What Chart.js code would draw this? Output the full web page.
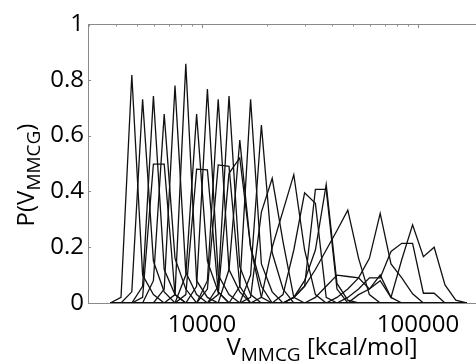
<!DOCTYPE html>
<html>
<head>
<meta charset="utf-8">
<script src="https://cdn.jsdelivr.net/npm/chart.js@4.4.1/dist/chart.umd.min.js"></script>
<style>
  html, body { margin: 0; padding: 0; background: #fff; }
  #wrap { width: 476px; height: 364px; }
</style>
</head>
<body>
<div id="wrap"><canvas id="chart"></canvas></div>
<script>
// histogram bin centres (kcal/mol), log spaced
const bins = [3758, 4217, 4732, 5309, 5957, 6683, 7499, 8414, 9441, 10593,
  11885, 13335, 14962, 16788, 18836, 21135, 23714, 26607, 29854, 33497,
  37584, 42170, 47315, 53088, 59566, 66834, 74989, 84140, 94406, 105925,
  118850, 133352, 149624, 167880];

// each run: [index of first listed bin, probabilities]; zero elsewhere
const narrowRuns = [
  [1, [0.02, 0.817, 0.10, 0.03]],
  [2, [0.04, 0.73, 0.15, 0.04]],
  [3, [0.06, 0.742, 0.12, 0.03]],
  [4, [0.08, 0.677, 0.16, 0.05]],
  [5, [0.05, 0.779, 0.11, 0.03]],
  [6, [0.03, 0.857, 0.08, 0.02]],
  [7, [0.10, 0.677, 0.15, 0.04]],
  [8, [0.06, 0.767, 0.10, 0.03]],
  [9, [0.08, 0.73, 0.12, 0.04]],
  [10, [0.06, 0.742, 0.13, 0.03]],
  [11, [0.12, 0.584, 0.20, 0.06]],
  [12, [0.06, 0.73, 0.14, 0.04]],
  [13, [0.10, 0.638, 0.18, 0.05]]
];

const broadRuns = [
  [3, [0.02, 0.498, 0.498, 0.03]],
  [7, [0.03, 0.48, 0.477, 0.04]],
  [9, [0.05, 0.495, 0.49, 0.06]],
  [10, [0.03, 0.465, 0.52, 0.20, 0.02]],
  [13, [0.02, 0.326, 0.447, 0.22, 0.02]],
  [14, [0.02, 0.20, 0.33, 0.46, 0.19, 0.03]],
  [16, [0.03, 0.19, 0.395, 0.357, 0.02]],
  [17, [0.02, 0.06, 0.407, 0.407, 0.05]],
  [17, [0.02, 0.08, 0.19, 0.425, 0.07, 0.01]],
  [17, [0.02, 0.06, 0.12, 0.19, 0.26, 0.333, 0.16, 0.03]],
  [19, [0.02, 0.06, 0.10, 0.095, 0.09, 0.05, 0.10, 0.02]],
  [21, [0.02, 0.05, 0.09, 0.16, 0.321, 0.14, 0.09, 0.033]],
  [22, [0.02, 0.05, 0.09, 0.09, 0.185, 0.214, 0.214, 0.035, 0.035]],
  [23, [0.03, 0.05, 0.08, 0.02, 0.156, 0.28, 0.166, 0.20, 0.065, 0.01]]
];

const yTicks = [0, 0.2, 0.4, 0.6, 0.8, 1];
const xLabels = [10000, 100000];
const topTicks = [3000, 4000, 5000, 6000, 7000, 8000, 9000, 10000,
  20000, 30000, 40000, 50000, 60000, 70000, 80000, 90000, 100000];

const FONT = '"Open Sans", "DejaVu Sans", sans-serif';
const AXIS = '#8a8a8a';

function toPoints(run) {
  const [start, probs] = run;
  return bins.map((b, i) => {
    const j = i - start;
    return { x: b, y: (j >= 0 && j < probs.length) ? probs[j] : 0 };
  });
}

const datasets = narrowRuns.concat(broadRuns).map(run => ({
  data: toPoints(run),
  borderColor: '#111',
  borderWidth: 1.3,
  pointRadius: 0,
  tension: 0,
  fill: false
}));

// axis titles with subscripts + inward ticks on frame
const framePlugin = {
  id: 'frame',
  afterDraw(chart) {
    const { ctx, chartArea: a, scales } = chart;
    const x = scales.x, y = scales.y;
    ctx.save();
    ctx.strokeStyle = AXIS;
    ctx.lineWidth = 1;
    ctx.beginPath();
    ctx.moveTo(a.left, a.top + 0.5);
    ctx.lineTo(a.right, a.top + 0.5);
    topTicks.forEach(v => {
      const px = Math.round(x.getPixelForValue(v)) + 0.5;
      const len = xLabels.includes(v) ? 4 : 2.5;
      ctx.moveTo(px, a.top);
      ctx.lineTo(px, a.top + len);
    });
    yTicks.forEach(v => {
      const py = Math.round(y.getPixelForValue(v)) + 0.5;
      ctx.moveTo(a.left, py);
      ctx.lineTo(a.left + 3, py);
    });
    ctx.stroke();

    ctx.fillStyle = '#000';
    ctx.textBaseline = 'alphabetic';
    const big = '24px ' + FONT, small = '19px ' + FONT;

    function drawParts(parts, cx, cy) {
      let total = 0;
      parts.forEach(p => { ctx.font = p[1]; p.w = ctx.measureText(p[0]).width; total += p.w; });
      let cur = cx - total / 2;
      parts.forEach(p => {
        ctx.font = p[1];
        ctx.fillText(p[0], cur, cy + p[2]);
        cur += p.w;
      });
    }

    // x title
    drawParts([['V', big, 0], ['MMCG', small, 6], [' [kcal/mol]', big, 0]], 322, 355);

    // y title
    ctx.translate(34, 175);
    ctx.rotate(-Math.PI / 2);
    drawParts([['P(V', big, 0], ['MMCG', small, 6], [')', big, 0]], 0, 0);
    ctx.restore();
  }
};

new Chart(document.getElementById('chart'), {
  type: 'line',
  data: { datasets },
  options: {
    responsive: true,
    maintainAspectRatio: false,
    animation: false,
    layout: { padding: { top: 24, right: 0, left: 0, bottom: 0 } },
    plugins: { legend: { display: false }, tooltip: { enabled: false } },
    scales: {
      x: {
        type: 'logarithmic',
        min: 2966,
        max: 185600,
        afterBuildTicks: s => { s.ticks = xLabels.map(v => ({ value: v })); },
        afterFit: s => { s.height = 61; },
        border: { color: AXIS, width: 1 },
        grid: { drawOnChartArea: false, drawTicks: false },
        ticks: {
          autoSkip: false,
          maxRotation: 0,
          padding: 8,
          color: '#000',
          font: { family: FONT, size: 24 },
          callback: v => String(v)
        }
      },
      y: {
        min: 0,
        max: 1,
        afterBuildTicks: s => { s.ticks = yTicks.map(v => ({ value: v })); },
        afterFit: s => { s.width = 88; },
        border: { color: AXIS, width: 1 },
        grid: { drawOnChartArea: false, drawTicks: false },
        ticks: {
          padding: 4,
          color: '#000',
          font: { family: FONT, size: 24 },
          callback: v => String(Math.round(v * 10) / 10)
        }
      }
    }
  },
  plugins: [framePlugin]
});
</script>
</body>
</html>
